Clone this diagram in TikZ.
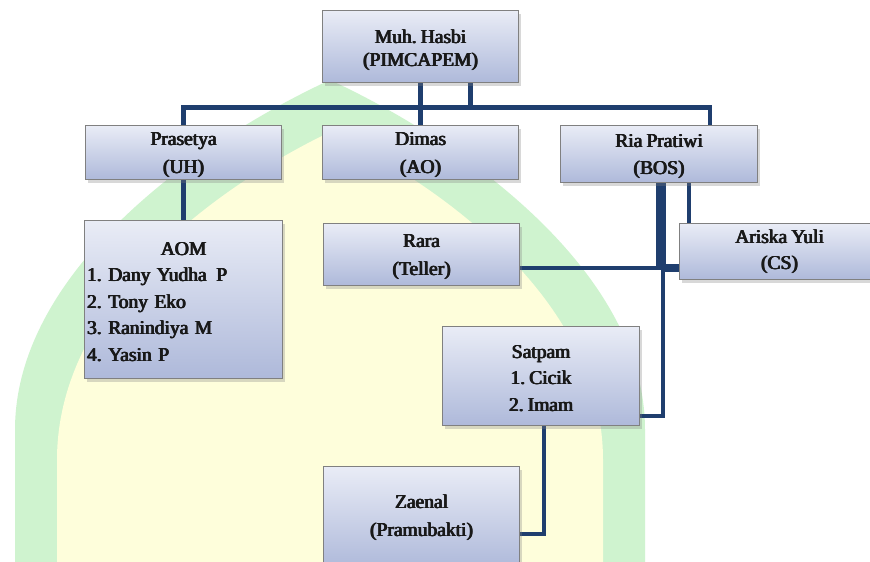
\documentclass[tikz,border=0pt]{standalone}
\usepackage{fontspec}
\setmainfont{Liberation Serif}[WordSpace=0.85]
\frenchspacing
\newcommand\pb[1]{\leavevmode\rlap{#1}\rlap{\kern0.4pt #1}\rlap{\kern0.8pt\raisebox{0.25pt}{#1}}\kern1pt #1}
\newcommand\fl[1][17.5pt]{\rule{0pt}{#1}}
\usetikzlibrary{shadows,calc}
\pgfdeclarelayer{wm}
\pgfdeclarelayer{lines}
\pgfsetlayers{wm,lines,main}
\definecolor{navy}{HTML}{1F3E6E}
\definecolor{boxtop}{HTML}{E9ECF6}
\definecolor{boxbot}{HTML}{AEB9DA}
\definecolor{boxline}{HTML}{808080}
\definecolor{wmgreen}{HTML}{CFF3CF}
\definecolor{wmyellow}{HTML}{FEFEDB}
\begin{document}
\begin{tikzpicture}[x=1pt,y=-1pt,
  orgbox/.style={draw=boxline, line width=1.3pt, top color=boxtop, bottom color=boxbot,
    drop shadow={opacity=0.3, shadow xshift=2pt, shadow yshift=-3pt},
    align=center, minimum width=196pt, inner sep=0pt, anchor=north west, text=black!90},
  lsp/.style={font=\frenchspacing\fontsize{19.5}{#1}\selectfont},
  conn/.style={draw=navy, line width=4.8pt}]
\useasboundingbox (0,0) rectangle (870,562);
\begin{pgfonlayer}{wm}
\fill[white] (0,0) rectangle (870,562);
\fill[wmgreen] (15,562) -- (15,430) .. controls (15,270) and (200,140) .. (330,80)
  .. controls (460,140) and (645,270) .. (645,430) -- (645,562) -- cycle;
\fill[wmyellow] (57,562) -- (57,460) .. controls (57,300) and (220,185) .. (330,132)
  .. controls (440,185) and (603,300) .. (603,460) -- (603,562) -- cycle;
\end{pgfonlayer}

\node[orgbox, minimum height=72pt, lsp=23] (hasbi) at (322,10) {\fl[21.5pt]\pb{Muh. Hasbi}\\\pb{(PIMCAPEM)}};
\node[orgbox, minimum height=54pt, lsp=28] (prasetya) at (85,125) {\fl\pb{Prasetya}\\\pb{(UH)}};
\node[orgbox, minimum height=54pt, lsp=28] (dimas) at (322,125) {\fl\pb{Dimas}\\\pb{(AO)}};
\node[orgbox, minimum height=57pt, minimum width=197pt, lsp=27] (ria) at (560,125) {\fl\pb{Ria Pratiwi}\\\pb{(BOS)}};
\node[orgbox, minimum height=158pt, minimum width=198pt, lsp=26.5, align=left,
  text width=194pt, inner xsep=2pt] (aom) at (84,220)
  {\makebox[194pt]{\fl\pb{AOM}}\\\pb{1. Dany Yudha\hspace{3pt} P}\\\pb{2. Tony Eko}\\\pb{3. Ranindiya M}\\\pb{4. Yasin P}};
\node[orgbox, minimum height=62pt, lsp=28] (rara) at (323,223) {\fl\pb{Rara}\\\pb{(Teller)}};
\node[orgbox, minimum height=56pt, minimum width=200pt, lsp=26] (ariska) at (679,223) {\pb{Ariska Yuli}\\\pb{(CS)}};
\node[orgbox, minimum height=99pt, minimum width=197pt, lsp=26.5] (satpam) at (442,326) {\fl\pb{Satpam}\\\pb{1. Cicik}\\\pb{2. Imam}};
\node[orgbox, minimum height=102pt, lsp=28] (zaenal) at (323,466) {\pb{Zaenal}\\\pb{(Pramubakti)}};

\begin{pgfonlayer}{lines}
\coordinate (busR) at (710,107.5);
\coordinate (h2) at ($(hasbi.south)+(50,0)$);
\coordinate (j1) at (661,268);
\coordinate (j1b) at (663,268);
\coordinate (j2) at (663,416);
\coordinate (cs) at (689,200);
\coordinate (j3) at (544,534);
\draw[conn] (prasetya.north) |- (busR) -- (busR |- ria.north);
\draw[conn] (hasbi.south) -- (dimas.north);
\draw[conn] (h2) -- (h2 |- busR);
\draw[conn] (prasetya.south) -- (aom.north);
\draw[conn, line width=10pt] (j1 |- ria.south) -- (j1);
\draw[conn] (rara.east |- j1) -- (ariska.west |- j1);
\draw[conn, line width=8pt] (j1) -- (ariska.west |- j1);
\draw[conn] (j1b) -- (j2) -- (satpam.east |- j2);
\draw[conn] (cs |- ria.south) -- (cs |- ariska.north);
\draw[conn] (j3 |- satpam.south) -- (j3) -- (zaenal.east |- j3);
\end{pgfonlayer}
\end{tikzpicture}
\end{document}
